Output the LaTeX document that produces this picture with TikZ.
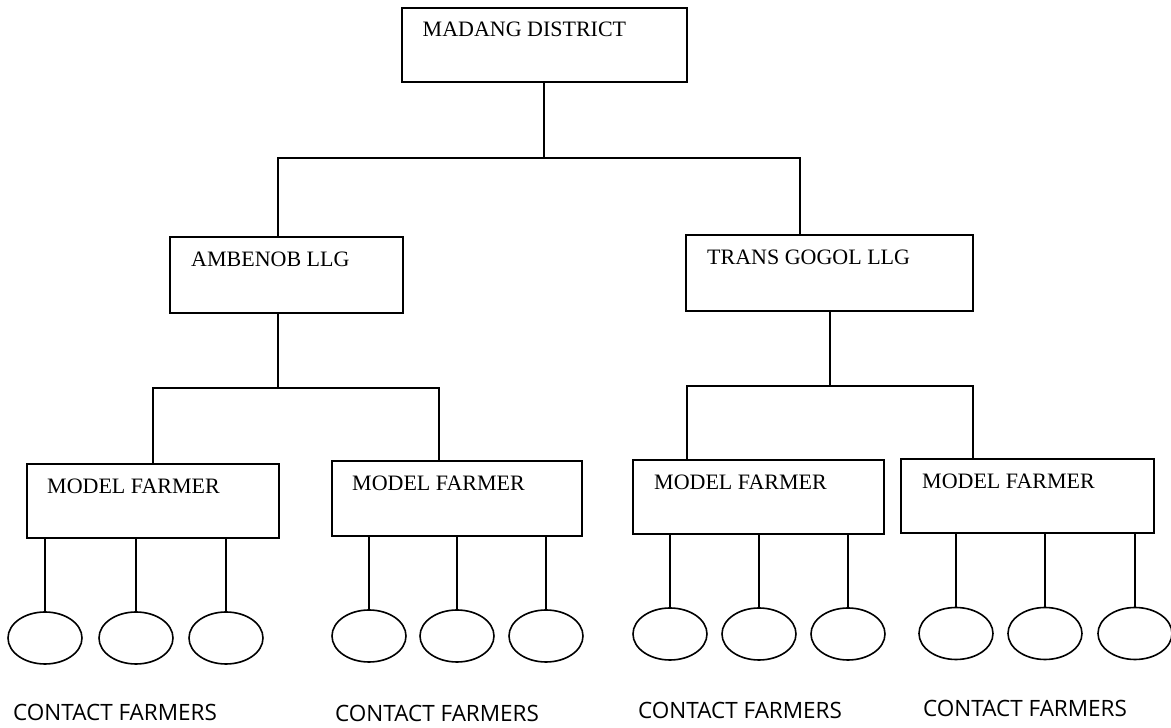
\documentclass[tikz,border=0pt]{standalone}
\usepackage{fontspec}
\setmainfont{Liberation Serif}
\newfontfamily\casualfont{Open Sans}
\usetikzlibrary{calc,shapes.geometric}

\tikzset{
  orgbox/.style={draw, line width=2pt, rectangle, inner sep=0pt},
  boxtext/.style={anchor=base west, inner sep=0pt, font=\fontsize{22}{24}\selectfont},
  conn/.style={line width=1.6pt},
  farmer/.style={draw, line width=1.6pt, ellipse, minimum width=74pt, minimum height=52pt, inner sep=0pt},
  grouplabel/.style={anchor=base west, inner sep=0pt, font=\casualfont\fontsize{22.5}{24}\selectfont}
}

\begin{document}
\begin{tikzpicture}[x=1pt, y=1pt]
\useasboundingbox (0,0) rectangle (1171,728);

% district
\node[orgbox, minimum width=285pt, minimum height=74pt] (md) at (544,683) {};
\node[boxtext] (mdT) at ($(md.north west)+(22,-30)$) {MADANG DISTRICT};

% LLGs
\node[orgbox, minimum width=233pt, minimum height=76pt] (amb) at (286.5,453) {};
\node[boxtext] (ambT) at ($(amb.north west)+(22,-31)$) {AMBENOB LLG};
\node[orgbox, minimum width=287pt, minimum height=76pt] (tg) at (829.5,455) {};
\node[boxtext] (tgT) at ($(tg.north west)+(22,-31)$) {TRANS GOGOL LLG};

% model farmers
\node[orgbox, minimum width=252pt, minimum height=74pt] (mf1) at (153,227) {};
\node[boxtext] (mf1T) at ($(mf1.north west)+(21,-31)$) {MODEL FARMER};
\node[orgbox, minimum width=250pt, minimum height=75pt] (mf2) at (457,229.5) {};
\node[boxtext] (mf2T) at ($(mf2.north west)+(21,-31)$) {MODEL FARMER};
\node[orgbox, minimum width=251pt, minimum height=74pt] (mf3) at (758.5,231) {};
\node[boxtext] (mf3T) at ($(mf3.north west)+(22,-31)$) {MODEL FARMER};
\node[orgbox, minimum width=253pt, minimum height=74pt] (mf4) at (1027.5,232) {};
\node[boxtext] (mf4T) at ($(mf4.north west)+(22,-31)$) {MODEL FARMER};

% bus junctions
\coordinate (b0L) at (278,570);
\coordinate (b0R) at (800,570);
\coordinate (b1L) at (153,340);
\coordinate (b1R) at (439,340);
\coordinate (b1M) at (278,340);
\coordinate (b2L) at (687,342);
\coordinate (b2R) at (973,342);
\coordinate (b2M) at (830,342);

% district to LLGs
\draw[conn] (md.south) -- (md.south |- b0L);
\draw[conn] (amb.north -| b0L) -- (b0L) -- (b0R) -- (tg.north -| b0R);

% LLGs to model farmers
\draw[conn] (amb.south -| b1M) -- (b1M);
\draw[conn] (mf1.north -| b1L) -- (b1L) -- (b1R) -- (mf2.north -| b1R);
\draw[conn] (tg.south -| b2M) -- (b2M);
\draw[conn] (mf3.north -| b2L) -- (b2L) -- (b2R) -- (mf4.north -| b2R);

% contact farmers
\foreach \g/\y/\xa/\xb/\xc in {1/90/45/136/226, 2/92/369/457/546, 3/94/670/759/848, 4/94.5/956/1045/1135}{
  \node[farmer] (cf\g a) at (\xa,\y) {};
  \node[farmer] (cf\g b) at (\xb,\y) {};
  \node[farmer] (cf\g c) at (\xc,\y) {};
  \draw[conn] (mf\g.south -| cf\g a) -- (cf\g a.north);
  \draw[conn] (mf\g.south -| cf\g b) -- (cf\g b.north);
  \draw[conn] (mf\g.south -| cf\g c) -- (cf\g c.north);
}

\node[grouplabel] (lab1) at (13,7) {CONTACT FARMERS};
\node[grouplabel] (lab2) at (335,6) {CONTACT FARMERS};
\node[grouplabel] (lab3) at (638,9) {CONTACT FARMERS};
\node[grouplabel] (lab4) at (923,11) {CONTACT FARMERS};
\end{tikzpicture}
\end{document}
